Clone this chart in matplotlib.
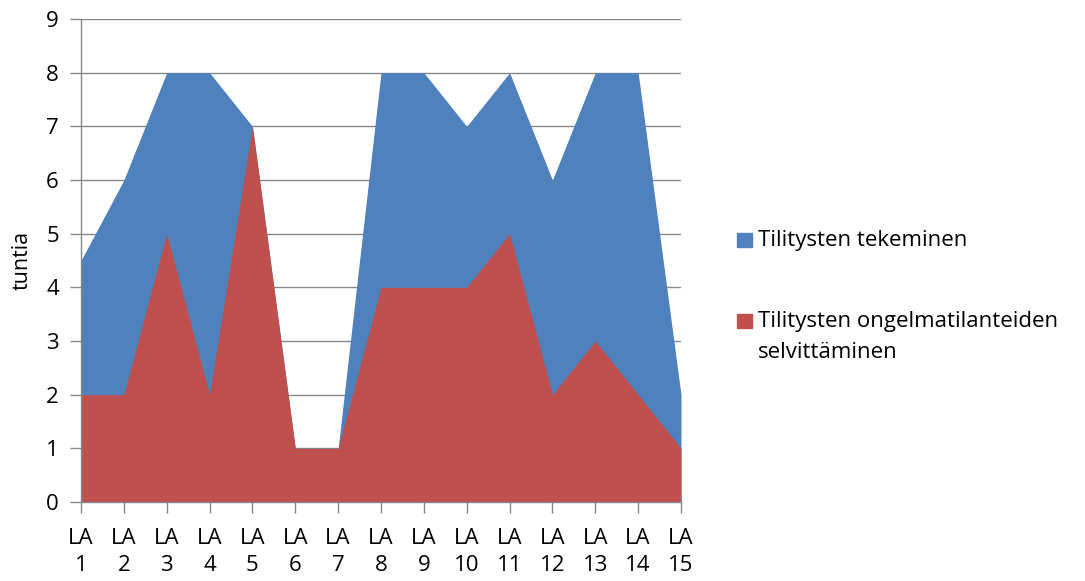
import numpy as np
import matplotlib.pyplot as plt
from matplotlib.patches import Rectangle

plt.rcParams['font.family'] = ['Open Sans', 'DejaVu Sans']

categories = ['LA\n%d' % i for i in range(1, 16)]
tekeminen = [4.5, 6, 8, 8, 7, 1, 1, 8, 8, 7, 8, 6, 8, 8, 2]
selvittaminen = [2, 2, 5, 2, 7, 1, 1, 4, 4, 4, 5, 2, 3, 2, 1]
series_names = ['Tilitysten tekeminen',
                'Tilitysten ongelmatilanteiden\nselvittäminen']

blue = '#4F81BD'
red = '#C0504D'
grid = '#878787'
fs = 16

fig = plt.figure(figsize=(10.85, 5.81), dpi=100)
ax = fig.add_axes([81/1085, 1 - 502/581, 600/1085, 483/581])

x = np.arange(len(categories))
ax.fill_between(x, 0, tekeminen, color=blue, linewidth=0, zorder=2)
ax.fill_between(x, 0, selvittaminen, color=red, linewidth=0, zorder=3)

ax.set_xlim(0, len(categories) - 1)
ax.set_ylim(0, 9)
ax.set_yticks(range(10))
ax.set_xticks(x)
ax.set_xticklabels(categories, fontsize=fs, linespacing=1.35)
ax.tick_params(axis='y', labelsize=fs, length=8, color=grid, width=1, pad=8)
ax.tick_params(axis='x', length=8, color=grid, width=1, pad=11)
ax.grid(axis='y', color=grid, linewidth=1, zorder=1)
ax.set_axisbelow(True)
for s in ['top', 'right']:
    ax.spines[s].set_visible(False)
for s in ['left', 'bottom']:
    ax.spines[s].set_color(grid)
    ax.spines[s].set_linewidth(1)
    ax.spines[s].set_zorder(4)
ax.set_ylabel('tuntia', fontsize=fs - 0.5, labelpad=10)

# legend on the right
for color, name, y in [(blue, series_names[0], 240), (red, series_names[1], 321)]:
    fig.patches.append(Rectangle((737/1085, 1 - (y + 7)/581), 15/1085, 14/581,
                                 transform=fig.transFigure, color=color))
    fig.text(758/1085, 1 - (y - 10)/581, name, fontsize=fs, va='top',
             ha='left', linespacing=1.6)

fig.savefig('out.png', dpi=100)
